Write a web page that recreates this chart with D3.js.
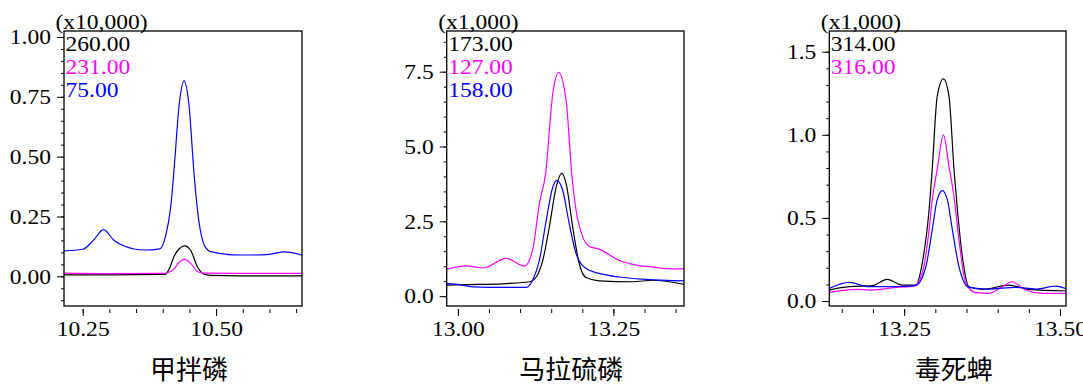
<!DOCTYPE html>
<html>
<head>
<meta charset="utf-8">
<script src="https://cdn.jsdelivr.net/npm/d3@7"></script>
<style>
  body { margin: 0; background: #fff; }
  svg text { font-family: "Liberation Serif", "Times New Roman", serif; }
  .title { font-family: "Noto Sans CJK SC", sans-serif !important; }
</style>
</head>
<body>
<div id="chart"></div>
<script>
// Data: [retention time, intensity in axis units]
const titles = ["甲拌磷", "马拉硫磷", "毒死蜱"];
const scaleLabels = ["(x10,000)", "(x1,000)", "(x1,000)"];
const ionLabels = [["260.00", "231.00", "75.00"], ["173.00", "127.00", "158.00"], ["314.00", "316.00"]];

const p1Black = [[10.215,0.006],[10.30,0.006],[10.40,0.008],[10.405,0.009],[10.412,0.03],[10.421,0.082],[10.43,0.113],
  [10.441,0.127],[10.452,0.11],[10.465,0.04],[10.477,0.009],[10.49,0.004],[10.55,0.002],[10.663,0.002]];
const p1Magenta = [[10.215,0.013],[10.30,0.011],[10.40,0.012],[10.41,0.016],[10.421,0.03],[10.43,0.057],[10.441,0.071],
  [10.452,0.055],[10.465,0.02],[10.477,0.013],[10.55,0.012],[10.663,0.012]];
const p1Blue = [[10.215,0.106],[10.25,0.113],[10.27,0.150],[10.289,0.195],[10.309,0.150],[10.327,0.128],[10.365,0.110],
  [10.395,0.115],[10.405,0.165],[10.415,0.29],[10.421,0.44],[10.431,0.72],[10.44,0.817],[10.449,0.72],[10.459,0.42],
  [10.465,0.28],[10.478,0.13],[10.49,0.103],[10.53,0.090],[10.565,0.089],[10.60,0.092],[10.628,0.102],[10.663,0.087]];

const p2Black = [[12.981,0.37],[13.035,0.39],[13.078,0.42],[13.115,0.48],[13.126,0.64],[13.1365,1.2],[13.147,2.31],
  [13.158,3.64],[13.167,4.11],[13.174,3.76],[13.1846,2.31],[13.195,1.09],[13.206,0.62],[13.227,0.51],[13.281,0.48],
  [13.313,0.53],[13.365,0.39]];
const p2Magenta = [[12.981,0.89],[13.013,1.01],[13.040,0.94],[13.078,1.26],[13.107,1.0],[13.120,1.53],[13.131,3.09],
  [13.141,4.1],[13.1525,6.76],[13.162,7.48],[13.174,6.53],[13.1835,3.98],[13.19,2.87],[13.2007,1.98],[13.211,1.67],
  [13.227,1.57],[13.259,1.2],[13.2916,1.02],[13.313,0.98],[13.334,0.92],[13.365,0.91]];
const p2Blue = [[12.981,0.42],[12.997,0.40],[13.024,0.31],[13.078,0.29],[13.11,0.29],[13.12,0.53],[13.131,1.2],
  [13.142,2.53],[13.1525,3.64],[13.159,3.87],[13.1686,3.53],[13.179,2.42],[13.19,1.42],[13.206,0.92],[13.227,0.76],
  [13.259,0.64],[13.302,0.56],[13.365,0.51]];

const p3Black = [[13.13,0.066],[13.162,0.086],[13.199,0.092],[13.223,0.13],[13.247,0.096],[13.2687,0.096],[13.279,0.227],
  [13.29,0.548],[13.295,0.79],[13.303,1.23],[13.313,1.336],[13.322,1.23],[13.33,0.79],[13.3355,0.548],[13.3434,0.267],
  [13.354,0.086],[13.3755,0.07],[13.418,0.096],[13.45,0.07],[13.513,0.06]];
const p3Magenta = [[13.13,0.052],[13.173,0.07],[13.194,0.066],[13.237,0.082],[13.266,0.09],[13.279,0.167],[13.29,0.427],
  [13.295,0.608],[13.303,0.79],[13.313,0.999],[13.322,0.808],[13.33,0.628],[13.338,0.367],[13.349,0.106],[13.365,0.05],
  [13.386,0.046],[13.4075,0.086],[13.4226,0.116],[13.445,0.066],[13.4716,0.046],[13.513,0.046]];
const p3Blue = [[13.13,0.076],[13.162,0.112],[13.194,0.086],[13.237,0.086],[13.2687,0.094],[13.2848,0.206],[13.295,0.427],
  [13.303,0.608],[13.3114,0.664],[13.3194,0.608],[13.3274,0.427],[13.338,0.206],[13.354,0.082],[13.386,0.072],
  [13.429,0.082],[13.461,0.072],[13.493,0.09],[13.513,0.07]];

const colors = ["#000000", "#ff00ff", "#0000ff"];

const panels = [
  { left: 64, right: 302, x: [10.215, 10.661], y: [-0.124, 1.025], xMajor: [10.25, 10.50], xMinor: d3.range(10.25, 10.66, 0.05),
    yMajor: [0, 0.25, 0.5, 0.75, 1.0], yMinor: d3.range(-0.10, 1.001, 0.05), yFmt: d3.format(".2f"),
    series: [p1Black, p1Magenta, p1Blue] },
  { left: 446.7, right: 684, x: [12.982, 13.3635], y: [-0.33, 8.86], xMajor: [13.00, 13.25], xMinor: d3.range(13.0, 13.36, 0.05),
    yMajor: [0, 2.5, 5.0, 7.5], yMinor: d3.range(0, 8.51, 0.5), yFmt: d3.format(".1f"),
    series: [p2Black, p2Magenta, p2Blue] },
  { left: 829.3, right: 1066, x: [13.130, 13.5096], y: [-0.03, 1.6245], xMajor: [13.25, 13.50], xMinor: d3.range(13.15, 13.51, 0.05),
    yMajor: [0, 0.5, 1.0, 1.5], yMinor: d3.range(0, 1.501, 0.1), yFmt: d3.format(".1f"),
    series: [p3Black, p3Magenta, p3Blue] }
];

const plotTop = 31, plotBottom = 306;
const widen = 1.12; // the reference's serif face is a bit wider than Liberation Serif

// stretch a text horizontally, keeping its anchor
function stretch(sel) {
  sel.each(function () {
    const w = this.getComputedTextLength();
    d3.select(this).attr("textLength", w * widen).attr("lengthAdjust", "spacingAndGlyphs");
  });
}

const svg = d3.select("#chart").append("svg")
  .attr("width", 1083).attr("height", 385);

panels.forEach((p, i) => {
  const x = d3.scaleLinear().domain(p.x).range([p.left, p.right]);
  const y = d3.scaleLinear().domain(p.y).range([plotBottom, plotTop]);
  const g = svg.append("g");

  g.append("clipPath").attr("id", "clip" + i)
    .append("rect").attr("x", p.left).attr("y", plotTop)
    .attr("width", p.right - p.left).attr("height", plotBottom - plotTop);

  const line = d3.line()
    .x(d => x(d[0]))
    .y(d => y(d[1]))
    .curve(d3.curveMonotoneX);

  p.series.forEach((s, k) => {
    g.append("path")
      .datum(s)
      .attr("clip-path", `url(#clip${i})`)
      .attr("fill", "none")
      .attr("stroke", colors[k])
      .attr("stroke-width", 1.2)
      .attr("d", line);
  });

  // frame
  g.append("rect")
    .attr("x", p.left).attr("y", plotTop)
    .attr("width", p.right - p.left).attr("height", plotBottom - plotTop)
    .attr("fill", "none").attr("stroke", "#000").attr("stroke-width", 1.3);

  // y axis
  g.append("g")
    .attr("transform", `translate(${p.left},0)`)
    .call(d3.axisLeft(y).tickValues(p.yMinor).tickSize(3).tickFormat(""))
    .call(a => a.select(".domain").remove());
  g.append("g")
    .attr("transform", `translate(${p.left},0)`)
    .call(d3.axisLeft(y).tickValues(p.yMajor).tickSize(7).tickPadding(6).tickFormat(p.yFmt))
    .call(a => a.select(".domain").remove())
    .call(a => a.selectAll("text").attr("font-size", 21).attr("fill", "#000").call(stretch));

  // x axis (ticks sit a little under the frame)
  g.append("g")
    .attr("transform", `translate(0,${plotBottom + 3})`)
    .call(d3.axisBottom(x).tickValues(p.xMinor).tickSize(4).tickFormat(""))
    .call(a => a.select(".domain").remove());
  g.append("g")
    .attr("transform", `translate(0,${plotBottom + 3})`)
    .call(d3.axisBottom(x).tickValues(p.xMajor).tickSize(7).tickPadding(5).tickFormat(d3.format(".2f")))
    .call(a => a.select(".domain").remove())
    .call(a => a.selectAll("text").attr("font-size", 21).attr("fill", "#000").call(stretch));

  // scale factor label
  g.append("text")
    .attr("x", p.left - 8.5).attr("y", 28.5)
    .attr("font-size", 21)
    .text(scaleLabels[i])
    .call(stretch);

  // ion labels
  ionLabels[i].forEach((t, k) => {
    g.append("text")
      .attr("x", p.left + 1.5).attr("y", 50.5 + k * 23)
      .attr("font-size", 21)
      .attr("fill", colors[k])
      .text(t)
      .call(stretch);
  });

  // compound title
  g.append("text")
    .attr("class", "title")
    .attr("x", (p.left + p.right) / 2 + 6).attr("y", 379)
    .attr("text-anchor", "middle")
    .attr("font-size", 26)
    .text(titles[i]);
});
</script>
</body>
</html>
